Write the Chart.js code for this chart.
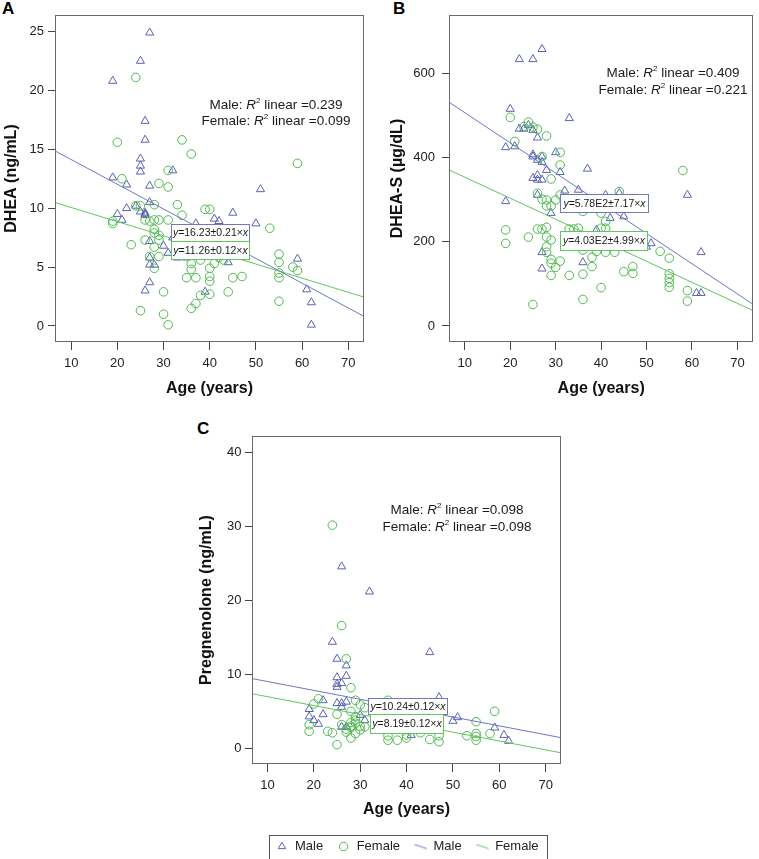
<!DOCTYPE html>
<html><head><meta charset="utf-8">
<script src="https://cdn.jsdelivr.net/npm/chart.js@4.4.0/dist/chart.umd.min.js"></script>
<style>
html,body{margin:0;padding:0;background:#fff;width:759px;height:859px;overflow:hidden;position:relative;}
canvas{position:absolute;display:block;}
.lbl{position:absolute;font:bold 17px "Liberation Sans",Arial,sans-serif;color:#000;line-height:20px;}
</style></head><body>
<div class="lbl" style="left:2px;top:-1px">A</div>
<div class="lbl" style="left:393px;top:-1px">B</div>
<div class="lbl" style="left:197px;top:419px">C</div>
<canvas id="cA" width="379" height="410" style="left:0;top:0"></canvas>
<canvas id="cB" width="379" height="410" style="left:380px;top:0"></canvas>
<canvas id="cC" width="400" height="424" style="left:180px;top:410px"></canvas>
<canvas id="cL" width="454" height="50" style="left:180px;top:826px"></canvas>
<script>
// ---------- data ----------
const xTicks = [10, 20, 30, 40, 50, 60, 70];
const yTicksA = [0, 5, 10, 15, 20, 25];
const yTicksB = [0, 200, 400, 600];
const yTicksC = [0, 10, 20, 30, 40];

const xRangeA = [6.5, 73.4], yRangeA = [-1.36, 26.4];
const xRangeB = [6.53, 73.5], yRangeB = [-38, 738];
const xRangeC = [6.67, 73.3], yRangeC = [-2.12, 42.26];

// Panel A: DHEA (ng/mL)
const ageMaleA = [27,25,19,26,26,25,25,25,32,19,22,27,51,27,22,24,20,21,25,26,26,26,45,41,42,50,37,32,27,30,31,33,35,27,27,28,44,59,27,26,39,61,62,62];
const dheaMale = [24.9,22.5,20.8,17.4,15.8,14.2,13.6,13.1,13.2,12.6,12.0,11.9,11.6,10.5,10.0,10.2,9.5,9.0,9.7,9.6,9.4,9.5,9.6,9.1,8.9,8.7,8.7,7.5,7.2,6.8,6.2,5.8,5.8,5.8,5.2,5.2,5.4,5.7,3.7,3.0,2.9,3.1,2.0,0.1];
const ageFemaleA = [24,20,34,36,59,31,21,29,31,33,28,24,25,39,40,34,53,19,19,26,28,29,31,27,28,28,29,29,26,23,28,27,29,28,36,36,35,37,40,40,40,41,45,47,38,43,55,55,55,55,58,59,55,30,40,44,38,37,36,25,30,31,33,36,40,42];
const dheaFemale = [21.1,15.6,15.8,14.6,13.8,13.2,12.5,12.1,11.8,10.3,10.3,10.2,10.2,9.9,9.9,9.4,8.3,8.9,8.7,9.0,9.0,9.0,9.0,8.9,8.2,7.9,7.7,7.3,7.3,6.9,6.7,5.9,5.9,4.9,5.3,4.8,4.1,4.1,4.9,4.2,3.8,5.3,4.1,4.2,5.6,5.6,6.1,5.4,4.5,4.1,5.0,4.7,2.1,2.9,2.7,2.9,2.6,1.9,1.5,1.3,1.0,0.1,6.5,6.0,6.2,5.8];

// Panel B: DHEA-S (µg/dL)
const ageMaleB = [27,22,25,20,33,22,23,24,25,26,19,21,30,25,25,27,26,27,28,37,31,25,26,26,27,19,26,32,35,41,44,29,42,45,27,27,36,39,50,51,59,62,61,62];
const dheasMale = [657,633,633,515,493,468,468,477,465,447,424,426,412,407,402,402,394,389,370,373,365,351,358,347,347,296,311,321,323,311,315,268,256,260,175,136,151,228,188,196,311,175,78,78];
const ageFemaleB = [20,24,25,23,26,28,21,27,31,31,29,26,27,28,28,29,30,31,44,58,19,19,24,26,27,28,28,29,28,28,29,29,29,30,31,33,25,36,40,38,38,36,33,34,35,36,36,40,39,41,43,40,41,41,45,47,47,53,55,55,55,55,55,59,59];
const dheasFemale = [495,484,472,473,467,451,438,402,412,382,349,315,301,299,285,285,299,311,319,369,228,196,211,230,230,234,211,204,188,175,158,149,120,139,154,120,51,63,91,141,163,123,230,230,232,180,272,268,177,175,175,232,232,248,129,141,125,177,161,124,113,103,92,84,59];

// Panel C: Pregnenolone (ng/mL)
const ageMaleC = [26,32,24,45,25,27,27,25,25,25,26,22,19,25,26,27,26,22,19,20,21,26,27,47,51,50,59,61,62,31,30,41];
const pregMale = [24.6,21.2,14.4,13.0,12.1,11.2,9.8,9.6,8.7,8.3,8.8,6.5,5.3,6.1,6.1,6.3,5.6,4.6,4.3,3.8,3.3,2.9,2.9,6.9,4.2,3.7,2.8,1.8,1.0,3.8,4.5,1.8];
const ageFemaleC = [24,26,27,28,21,20,29,25,19,19,23,24,25,26,27,28,28,29,30,29,28,27,30,59,55,53,55,55,55,58,36,36,38,40,40,43,45,47,47,36,31,28,29,30,29,28,31];
const pregFemale = [30.2,16.6,12.1,8.2,6.7,6.0,6.5,4.6,3.2,2.3,2.3,2.1,0.5,3.2,2.6,1.4,2.8,3.4,3.0,3.8,3.5,2.2,5.9,5.0,3.6,1.7,2.0,1.6,1.1,2.0,1.1,1.7,1.1,1.4,1.8,2.1,1.2,0.9,1.7,6.5,2.9,5.0,4.3,2.5,2.0,3.0,5.5];

// Linear fits [intercept, slope magnitude] for Male, Female
const fitA = [[16.23, 0.21], [11.26, 0.12]];
const fitB = [[578, 7.17], [403, 4.99]];
const fitC = [[10.24, 0.12], [8.19, 0.12]];
const eqA = ['=16.23\u00B10.21\u00D7', '=11.26\u00B10.12\u00D7'];
const eqB = ['=5.78E2\u00B17.17\u00D7', '=4.03E2\u00B14.99\u00D7'];
const eqC = ['=10.24\u00B10.12\u00D7', '=8.19\u00B10.12\u00D7'];
const r2A = ['0.239', '0.099'];
const r2B = ['0.409', '0.221'];
const r2C = ['0.098', '0.098'];
const seriesNames = ['Male', 'Female'];

// ---------- style ----------
const FAM = '"Liberation Sans", Arial, Helvetica, sans-serif';
const MALE_PT = '#5a62b2', FEMALE_PT = '#4db94d', MALE_LN = '#6f77bf', FEMALE_LN = '#63c463';
const FRAME = '#6a6a6a', TICK = '#444';

function pts(xs, ys) { return xs.map((x, i) => ({ x: x, y: ys[i] })); }
function fitLine(c, xr) { return xr.map(x => ({ x: x, y: c[0] - c[1] * x })); }

function drawRich(ctx, parts, cx, cy, size, color) {
  const fonts = parts.map(p => (p.it ? 'italic ' : '') + (p.sup ? Math.round(size * 0.62) : size) + 'px ' + FAM);
  let w = 0;
  const ws = parts.map((p, i) => { ctx.font = fonts[i]; const m = ctx.measureText(p.t).width; w += m; return m; });
  let x = cx - w / 2;
  ctx.fillStyle = color; ctx.textBaseline = 'middle'; ctx.textAlign = 'left';
  parts.forEach((p, i) => { ctx.font = fonts[i]; ctx.fillText(p.t, x, cy - (p.sup ? size * 0.32 : 0)); x += ws[i]; });
}

const annotPlugin = {
  id: 'annot',
  afterDatasetsDraw(chart, args, o) {
    const ctx = chart.ctx, a = chart.chartArea;
    ctx.save();
    ctx.strokeStyle = FRAME; ctx.lineWidth = 1;
    ctx.strokeRect(Math.round(a.left) + 0.5, Math.round(a.top) + 0.5, Math.round(a.right - a.left) - 1, Math.round(a.bottom - a.top) - 1);
    o.r2.forEach((v, i) => {
      drawRich(ctx, [{ t: seriesNames[i] + ': ' }, { t: 'R', it: true }, { t: '2', sup: true }, { t: ' linear =' + v }],
        o.r2x, o.r2y[i], 13.5, '#1a1a1a');
    });
    o.boxes.forEach((b, i) => {
      ctx.fillStyle = '#fff';
      ctx.fillRect(b[0], b[1], b[2], b[3]);
      ctx.strokeStyle = i === 0 ? MALE_LN : FEMALE_LN; ctx.lineWidth = 1;
      ctx.strokeRect(b[0] + 0.5, b[1] + 0.5, b[2], b[3]);
    });
    o.boxes.forEach((b, i) => {
      drawRich(ctx, [{ t: 'y', it: true }, { t: o.eq[i] }, { t: 'x', it: true }], b[0] + b[2] / 2 + 0.5, b[1] + b[3] / 2 + 1, 10.5, '#1a1a1a');
    });
    ctx.restore();
  }
};

function makeChart(id, p) {
  return new Chart(document.getElementById(id), {
    type: 'scatter',
    data: {
      datasets: [
        { label: 'Male', data: pts(p.xm, p.ym), pointStyle: 'triangle', pointRadius: 4.7, pointBorderWidth: 1,
          pointBorderColor: MALE_PT, pointBackgroundColor: 'rgba(0,0,0,0)', showLine: false, order: 2 },
        { label: 'Female', data: pts(p.xf, p.yf), pointStyle: 'circle', pointRadius: 4.3, pointBorderWidth: 1,
          pointBorderColor: FEMALE_PT, pointBackgroundColor: 'rgba(0,0,0,0)', showLine: false, order: 1 },
        { label: 'Male', data: fitLine(p.fit[0], p.xr), showLine: true, pointRadius: 0, borderColor: MALE_LN, borderWidth: 1, order: 0 },
        { label: 'Female', data: fitLine(p.fit[1], p.xr), showLine: true, pointRadius: 0, borderColor: FEMALE_LN, borderWidth: 1, order: 0 }
      ]
    },
    options: {
      responsive: false, animation: false, events: [],
      layout: { padding: p.pad },
      plugins: { legend: { display: false }, tooltip: { enabled: false },
        annot: { r2: p.r2, r2x: p.r2x, r2y: p.r2y, boxes: p.boxes, eq: p.eq } },
      scales: {
        x: {
          type: 'linear', min: p.xr[0], max: p.xr[1],
          afterBuildTicks: s => { s.ticks = xTicks.map(v => ({ value: v })); },
          afterFit: s => { s.height = p.xh; },
          grid: { drawOnChartArea: false, drawTicks: true, tickLength: 8, tickColor: TICK, color: TICK },
          border: { display: false },
          ticks: { font: { size: 13, family: FAM }, color: '#222', padding: p.xlp, maxRotation: 0, autoSkip: false },
          title: { display: true, text: 'Age (years)', color: '#111', font: { size: 16, weight: 'bold', family: FAM },
            padding: { top: 0, bottom: p.xtp } }
        },
        y: {
          type: 'linear', min: p.yr[0], max: p.yr[1],
          afterBuildTicks: s => { s.ticks = p.yt.map(v => ({ value: v })); },
          afterFit: s => { s.width = p.yw; },
          grid: { drawOnChartArea: false, drawTicks: true, tickLength: 7, tickColor: TICK, color: TICK },
          border: { display: false },
          ticks: { font: { size: 13, family: FAM }, color: '#222', padding: p.ylp, autoSkip: false },
          title: { display: true, text: p.ytitle, color: '#111', font: { size: 16, weight: 'bold', family: FAM },
            padding: { top: p.ytp, bottom: 0 } }
        }
      }
    },
    plugins: [annotPlugin]
  });
}

makeChart('cA', { xm: ageMaleA, ym: dheaMale, xf: ageFemaleA, yf: dheaFemale, fit: fitA, xr: xRangeA, yr: yRangeA, yt: yTicksA,
  pad: { left: 0, top: 15, right: 15, bottom: 0 }, xh: 68, yw: 55, xtp: 11.4, xlp: 6, ytp: 2.4, ylp: 4, ytitle: 'DHEA (ng/mL)',
  r2: r2A, r2x: 276, r2y: [105, 121], eq: eqA, boxes: [[171, 224, 78, 17], [171, 241, 78, 18]] });

makeChart('cB', { xm: ageMaleB, ym: dheasMale, xf: ageFemaleB, yf: dheasFemale, fit: fitB, xr: xRangeB, yr: yRangeB, yt: yTicksB,
  pad: { left: 0, top: 15, right: 1, bottom: 0 }, xh: 68, yw: 69, xtp: 11.4, xlp: 6, ytp: 8.4, ylp: 7, ytitle: 'DHEA-S (\u00B5g/dL)',
  r2: r2B, r2x: 293, r2y: [73, 90], eq: eqB, boxes: [[180, 194, 88, 18], [180, 231, 87, 19]] });

makeChart('cC', { xm: ageMaleC, ym: pregMale, xf: ageFemaleC, yf: pregFemale, fit: fitC, xr: xRangeC, yr: yRangeC, yt: yTicksC,
  pad: { left: 0, top: 26, right: 19, bottom: 0 }, xh: 70, yw: 72, xtp: 14.4, xlp: 5.5, ytp: 17, ylp: 3.5, ytitle: 'Pregnenolone (ng/mL)',
  r2: r2C, r2x: 277, r2y: [100, 117], eq: eqC, boxes: [[188, 288, 79, 16], [190, 304, 73, 19]] });

// ---------- legend ----------
function lineSymbol(color) {
  const c = document.createElement('canvas'); c.width = 13; c.height = 6;
  const g = c.getContext('2d'); g.strokeStyle = color; g.lineWidth = 1;
  g.beginPath(); g.moveTo(0.5, 1); g.lineTo(12.5, 5); g.stroke();
  return c;
}
const legendBox = {
  id: 'legendBox',
  afterDraw(chart) {
    const hb = chart.legend.legendHitBoxes; if (!hb || !hb.length) return;
    const last = hb[hb.length - 1];
    const l = Math.round(hb[0].left - 6), r = Math.round(last.left + last.width + 8);
    const cy = Math.round(hb[0].top + hb[0].height / 2);
    const ctx = chart.ctx; ctx.save(); ctx.strokeStyle = '#555'; ctx.lineWidth = 1;
    ctx.strokeRect(l + 0.5, cy - 12 + 0.5, r - l, 24); ctx.restore();
  }
};
new Chart(document.getElementById('cL'), {
  type: 'scatter',
  data: { datasets: [{ label: 'Male', data: [] }, { label: 'Female', data: [] }, { label: 'Male', data: [] }, { label: 'Female', data: [] }] },
  options: {
    responsive: false, animation: false, events: [],
    layout: { padding: 0 },
    scales: { x: { display: false }, y: { display: false } },
    plugins: {
      tooltip: { enabled: false },
      legend: {
        position: 'top',
        labels: {
          usePointStyle: true, boxHeight: 6, padding: 14, color: '#222', font: { size: 13, family: FAM },
          generateLabels: () => [
            { text: seriesNames[0], pointStyle: 'triangle', strokeStyle: MALE_PT, fillStyle: 'rgba(0,0,0,0)', lineWidth: 1, rotation: 0, datasetIndex: 0, fontColor: '#222' },
            { text: seriesNames[1], pointStyle: 'circle', strokeStyle: FEMALE_PT, fillStyle: 'rgba(0,0,0,0)', lineWidth: 1, rotation: 0, datasetIndex: 1, fontColor: '#222' },
            { text: seriesNames[0], pointStyle: lineSymbol(MALE_LN), strokeStyle: MALE_LN, fillStyle: MALE_LN, lineWidth: 1, rotation: 0, datasetIndex: 2, fontColor: '#222' },
            { text: seriesNames[1], pointStyle: lineSymbol(FEMALE_LN), strokeStyle: FEMALE_LN, fillStyle: FEMALE_LN, lineWidth: 1, rotation: 0, datasetIndex: 3, fontColor: '#222' }
          ]
        }
      }
    }
  },
  plugins: [legendBox]
});
</script>
</body></html>
